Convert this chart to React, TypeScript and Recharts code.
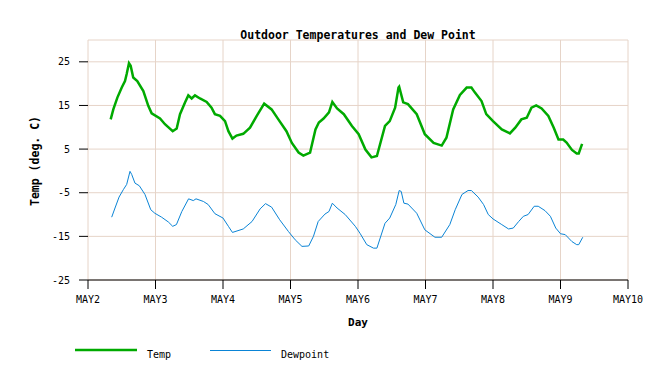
import { LineChart, Line, XAxis, YAxis, CartesianGrid } from 'recharts'

// days since May 2, 00:00
const tempDays = [0.336, 0.375, 0.435, 0.5, 0.548, 0.573, 0.607, 0.632, 0.67, 0.73, 0.82, 0.893, 0.943, 1.067, 1.14, 1.255, 1.314, 1.363, 1.437, 1.486, 1.536, 1.585, 1.659, 1.758, 1.83, 1.88, 1.956, 2.03, 2.08, 2.14, 2.2, 2.3, 2.4, 2.5, 2.61, 2.72, 2.82, 2.94, 3.02, 3.12, 3.19, 3.29, 3.37, 3.42, 3.49, 3.57, 3.62, 3.69, 3.79, 3.91, 4.01, 4.11, 4.2, 4.28, 4.4, 4.47, 4.55, 4.6, 4.61, 4.67, 4.74, 4.87, 4.99, 5.12, 5.24, 5.31, 5.41, 5.51, 5.61, 5.68, 5.73, 5.83, 5.9, 6.0, 6.13, 6.25, 6.33, 6.42, 6.5, 6.57, 6.64, 6.72, 6.82, 6.9, 6.97, 7.04, 7.09, 7.17, 7.24, 7.27, 7.32]
const tempValues = [11.8, 14.1, 16.8, 19.1, 20.6, 22.2, 24.7, 24.1, 21.4, 20.6, 18.3, 14.9, 13.2, 12.0, 10.7, 9.1, 9.7, 13.0, 15.7, 17.3, 16.6, 17.3, 16.6, 15.8, 14.5, 13.0, 12.6, 11.4, 9.1, 7.4, 8.1, 8.5, 9.9, 12.6, 15.4, 14.1, 11.8, 9.1, 6.4, 4.2, 3.5, 4.2, 9.5, 11.1, 12.0, 13.4, 15.8, 14.3, 13.0, 10.3, 8.4, 4.9, 3.1, 3.4, 10.3, 11.4, 14.5, 19.1, 19.3, 15.7, 15.3, 13.0, 8.4, 6.4, 5.8, 7.6, 14.1, 17.4, 19.1, 19.1, 18.0, 16.0, 13.0, 11.4, 9.5, 8.6, 9.9, 11.8, 12.2, 14.5, 15.0, 14.3, 12.6, 9.9, 7.2, 7.2, 6.5, 4.8, 4.0, 4.0, 6.2]

const dewDays = [0.351, 0.4, 0.46, 0.523, 0.573, 0.622, 0.647, 0.696, 0.76, 0.844, 0.93, 0.99, 1.09, 1.19, 1.255, 1.31, 1.39, 1.49, 1.56, 1.6, 1.71, 1.78, 1.88, 2.0, 2.08, 2.14, 2.3, 2.43, 2.55, 2.63, 2.72, 2.84, 2.97, 3.07, 3.17, 3.27, 3.34, 3.41, 3.51, 3.57, 3.62, 3.69, 3.81, 3.96, 4.03, 4.13, 4.23, 4.28, 4.4, 4.47, 4.56, 4.61, 4.64, 4.68, 4.74, 4.87, 4.99, 5.14, 5.24, 5.36, 5.44, 5.54, 5.63, 5.68, 5.78, 5.86, 5.93, 6.0, 6.13, 6.23, 6.3, 6.38, 6.45, 6.52, 6.61, 6.67, 6.77, 6.85, 6.93, 7.0, 7.07, 7.17, 7.24, 7.27, 7.33]
const dewValues = [-10.6, -8.5, -6.0, -4.3, -3.1, -0.1, -0.8, -2.8, -3.4, -5.4, -8.9, -9.7, -10.6, -11.7, -12.7, -12.3, -9.3, -6.4, -6.8, -6.4, -7.0, -7.7, -9.8, -10.8, -12.7, -14.1, -13.3, -11.6, -8.7, -7.5, -8.3, -11.2, -13.9, -15.8, -17.3, -17.2, -15.0, -11.6, -9.9, -9.3, -7.4, -8.5, -10.0, -12.7, -14.3, -16.9, -17.7, -17.7, -12.0, -10.8, -7.7, -4.5, -4.7, -7.4, -7.6, -9.7, -13.5, -15.2, -15.2, -12.3, -8.9, -5.4, -4.5, -4.5, -6.0, -7.7, -10.0, -11.0, -12.3, -13.3, -13.1, -11.6, -10.4, -10.0, -8.1, -8.1, -9.1, -10.4, -13.1, -14.4, -14.6, -16.2, -16.9, -16.9, -15.2]

const dayTicks = [0, 1, 2, 3, 4, 5, 6, 7, 8]
const dayLabels = ['MAY2', 'MAY3', 'MAY4', 'MAY5', 'MAY6', 'MAY7', 'MAY8', 'MAY9', 'MAY10']
const tempTicks = [25, 15, 5, -5, -15, -25]

const tempData = tempDays.map((d, i) => ({ day: d, temp: tempValues[i] }))
const dewData = dewDays.map((d, i) => ({ day: d, dew: dewValues[i] }))

const font = '"DejaVu Sans Mono", monospace'
const tickStyle = { fontFamily: font, fontSize: 10, fill: '#000' }

const App = () => {
  return (
    <div style={{ position: 'absolute', left: 0, top: 0 }}>
      <LineChart width={669} height={377} margin={{ top: 40, right: 41, bottom: 67, left: 0 }}>
        <CartesianGrid stroke="#e6d4c8" strokeWidth={1} />
        <XAxis
          type="number"
          dataKey="day"
          domain={[0, 8]}
          ticks={dayTicks}
          tickFormatter={(v) => dayLabels[v]}
          height={30}
          stroke="#000"
          tickSize={9}
          tickMargin={7}
          tick={tickStyle}
          allowDuplicatedCategory={false}
          label={{ value: 'Day', position: 'bottom', offset: 8, style: { fontFamily: font, fontSize: 11, fontWeight: 'bold', fill: '#000' } }}
        />
        <YAxis
          type="number"
          domain={[-25, 30]}
          ticks={tempTicks}
          width={88}
          axisLine={false}
          tickLine={{ stroke: '#000' }}
          tickSize={9}
          tickMargin={9}
          tick={tickStyle}
        />
        <Line data={tempData} dataKey="temp" type="linear" stroke="#00aa00" strokeWidth={2.5} dot={false} isAnimationActive={false} />
        <Line data={dewData} dataKey="dew" type="linear" stroke="#0a84d6" strokeWidth={1} dot={false} isAnimationActive={false} />
        <text x={358} y={39} textAnchor="middle" fontFamily={font} fontSize={11.5} fontWeight="bold" fill="#000">
          Outdoor Temperatures and Dew Point
        </text>
        <text x={39} y={161} textAnchor="middle" fontFamily={font} fontSize={11.5} fontWeight="bold" fill="#000" transform="rotate(-90 39 161)">
          Temp (deg. C)
        </text>
        <line x1={75} y1={350} x2={137} y2={350} stroke="#00aa00" strokeWidth={2.5} />
        <text x={147} y={358} fontFamily={font} fontSize={10} fill="#000">Temp</text>
        <line x1={210} y1={350.5} x2={271} y2={350.5} stroke="#0a84d6" strokeWidth={1} />
        <text x={281} y={358} fontFamily={font} fontSize={10} fill="#000">Dewpoint</text>
      </LineChart>
    </div>
  )
}

export default App
